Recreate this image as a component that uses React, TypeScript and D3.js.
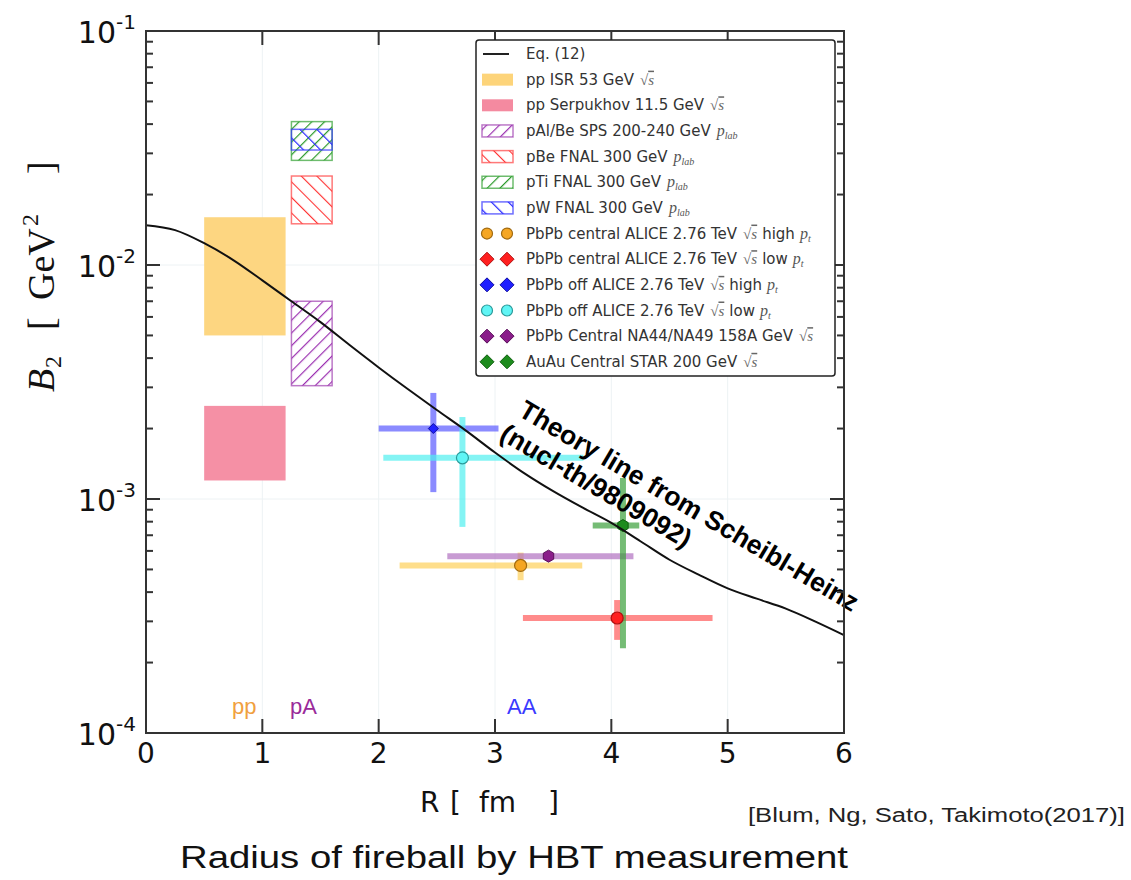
import React from "react";
import * as d3 from "d3";

// Coalescence parameter B2 vs HBT radius R
const theoryR = [0, 0.25, 0.5, 0.75, 1.0, 1.25, 1.5, 1.75, 2.0, 2.25, 2.5, 2.75, 3.0, 3.25, 3.5, 3.75, 4.0, 4.25, 4.5, 4.75, 5.0, 5.25, 5.5, 5.75, 6.0];
const theoryB2 = [1.48e-2, 1.41e-2, 1.24e-2, 1.05e-2, 8.6e-3, 7.0e-3, 5.7e-3, 4.55e-3, 3.65e-3, 2.95e-3, 2.4e-3, 1.96e-3, 1.58e-3, 1.29e-3, 1.08e-3, 9.2e-4, 7.9e-4, 6.6e-4, 5.5e-4, 4.75e-4, 4.15e-4, 3.75e-4, 3.4e-4, 3.0e-4, 2.62e-4];

// Rectangular ranges (pp and pA measurements)
const boxNames = ["ppISR", "ppSerpukhov", "pAlBe", "pBe", "pTi", "pW"];
const boxRmin = [0.5, 0.5, 1.25, 1.25, 1.25, 1.25];
const boxRmax = [1.2, 1.2, 1.6, 1.6, 1.6, 1.6];
const boxB2min = [5.0e-3, 1.2e-3, 3.05e-3, 1.5e-2, 2.8e-2, 3.1e-2];
const boxB2max = [1.6e-2, 2.5e-3, 7.0e-3, 2.4e-2, 4.1e-2, 3.8e-2];

// AA measurements with error ranges
const ptNames = ["aliceCentHigh", "aliceCentLow", "aliceOffHigh", "aliceOffLow", "na44na49", "star"];
const ptR = [3.22, 4.05, 2.47, 2.72, 3.46, 4.10];
const ptRlo = [2.18, 3.24, 2.0, 2.04, 2.59, 3.84];
const ptRhi = [3.75, 4.87, 3.03, 3.76, 4.19, 4.24];
const ptB2 = [5.2e-4, 3.1e-4, 2.0e-3, 1.5e-3, 5.7e-4, 7.7e-4];
const ptB2lo = [4.5e-4, 2.5e-4, 1.07e-3, 7.6e-4, 5.7e-4, 2.3e-4];
const ptB2hi = [5.9e-4, 3.7e-4, 2.84e-3, 2.24e-3, 5.7e-4, 1.23e-3];

const xTicks = [0, 1, 2, 3, 4, 5, 6];
const yDecades = [-1, -2, -3, -4];

const legendText = [
  "Eq. (12)",
  "pp ISR 53 GeV",
  "pp Serpukhov 11.5 GeV",
  "pAl/Be SPS 200-240 GeV",
  "pBe FNAL 300 GeV",
  "pTi FNAL 300 GeV",
  "pW FNAL 300 GeV",
  "PbPb central ALICE 2.76 TeV",
  "PbPb central ALICE 2.76 TeV",
  "PbPb off ALICE 2.76 TeV",
  "PbPb off ALICE 2.76 TeV",
  "PbPb Central NA44/NA49 158A GeV",
  "AuAu Central STAR 200 GeV",
];
const legendSuffix = ["", "sqrt", "sqrt", "plab", "plab", "plab", "plab", "sqrt high", "sqrt low", "sqrt high", "sqrt low", "sqrt", "sqrt"];

// styling
const boxFill = ["#fdd47a", "#f48aa0", "url(#hatchPurple)", "url(#hatchRed)", "url(#hatchGreen)", "url(#hatchBlue)"];
const boxStroke = ["none", "none", "#a040b0", "#ff4040", "#30a030", "#3030ff"];
const barColor = ["#fdd05a", "#ff5a5a", "#5a5aff", "#50f0f0", "#b070c0", "#3aa03a"];
const markFill = ["#f5a623", "#ff2020", "#2020ff", "#60f5f5", "#8a1d8a", "#1e8c1e"];
const markStroke = ["#a06a10", "#b01010", "#1010a0", "#2a9a9a", "#5a105a", "#106010"];
const markShape = ["circle", "circle", "diamond", "circle", "hex", "hex"];

const SANS = "DejaVu Sans, sans-serif";
const ARIAL = "Liberation Sans, Arial, sans-serif";
const SERIF = "Liberation Serif, DejaVu Serif, serif";

function Marker({ shape, cx, cy, r, fill, stroke }: any) {
  if (shape === "diamond") {
    const p = `${cx},${cy - r} ${cx + r},${cy} ${cx},${cy + r} ${cx - r},${cy}`;
    return <polygon points={p} fill={fill} stroke={stroke} strokeWidth={1} />;
  }
  if (shape === "hex") {
    const pts = d3.range(6).map((i) => {
      const a = (Math.PI / 3) * i + Math.PI / 6;
      return `${cx + r * Math.cos(a)},${cy + r * Math.sin(a)}`;
    });
    return <polygon points={pts.join(" ")} fill={fill} stroke={stroke} strokeWidth={1} />;
  }
  return <circle cx={cx} cy={cy} r={r} fill={fill} stroke={stroke} strokeWidth={1.2} />;
}

function Suffix({ kind }: { kind: string }) {
  if (!kind) return null;
  const parts = kind.split(" ");
  const out: any[] = [];
  if (parts[0] === "sqrt") {
    out.push(
      <tspan key="s" dx={6} fontFamily={SERIF} fontStyle="italic" fill="#666" fontSize={15}>
        √<tspan textDecoration="overline">s</tspan>
      </tspan>
    );
  }
  if (parts[0] === "plab") {
    out.push(
      <tspan key="p" dx={6} fontFamily={SERIF} fontStyle="italic" fill="#555" fontSize={16}>
        p
      </tspan>
    );
    out.push(
      <tspan key="l" fontFamily={SERIF} fontStyle="italic" fill="#555" fontSize={10} dy={3}>
        lab
      </tspan>
    );
  }
  if (parts[1]) {
    out.push(
      <tspan key="h" dx={5} dy={0}>
        {parts[1]}
      </tspan>
    );
    out.push(
      <tspan key="pt" dx={5} fontFamily={SERIF} fontStyle="italic" fill="#555" fontSize={16}>
        p
      </tspan>
    );
    out.push(
      <tspan key="t" fontFamily={SERIF} fontStyle="italic" fill="#555" fontSize={10} dy={3}>
        t
      </tspan>
    );
  }
  return <>{out}</>;
}

export default function App() {
  const x = d3.scaleLinear().domain([0, 6]).range([146, 844]);
  const y = d3.scaleLog().domain([1e-4, 1e-1]).range([733, 31]);
  const [xl, xr] = x.range();
  const [yb, yt] = y.range();

  const line = d3
    .line<number>()
    .x((_, i) => x(theoryR[i]))
    .y((d) => y(d))
    .curve(d3.curveMonotoneX);

  const minorY: { v: number; major: boolean }[] = [];
  for (let e = -4; e <= -1; e++) {
    for (let m = 1; m <= 9; m++) {
      const v = m * Math.pow(10, e);
      if (v > 0.1 + 1e-12) continue;
      minorY.push({ v, major: m === 1 });
    }
  }

  const legX = 476;
  const legY0 = 54;
  const legStep = 25.65;

  return (
    <svg
      width={1131}
      height={880}
      style={{ position: "absolute", left: 0, top: 0, background: "#fff" }}
    >
      <defs>
        <pattern id="hatchPurple" patternUnits="userSpaceOnUse" width={9} height={9} patternTransform="rotate(45)">
          <line x1={0} y1={0} x2={0} y2={9} stroke="#9b30b0" strokeWidth={2.4} />
        </pattern>
        <pattern id="hatchRed" patternUnits="userSpaceOnUse" width={11} height={11} patternTransform="rotate(-45)">
          <line x1={0} y1={0} x2={0} y2={11} stroke="#ff3030" strokeWidth={2.2} />
        </pattern>
        <pattern id="hatchGreen" patternUnits="userSpaceOnUse" width={9} height={9} patternTransform="rotate(45)">
          <line x1={0} y1={0} x2={0} y2={9} stroke="#2a9a2a" strokeWidth={2.4} />
        </pattern>
        <pattern id="hatchBlue" patternUnits="userSpaceOnUse" width={12} height={12} patternTransform="rotate(-45)">
          <line x1={0} y1={0} x2={0} y2={12} stroke="#2020ff" strokeWidth={2.4} />
        </pattern>
      </defs>

      {/* faint grid */}
      <g stroke="#edf2f4" strokeWidth={1}>
        {xTicks.slice(1, -1).map((t) => (
          <line key={"gx" + t} x1={x(t)} x2={x(t)} y1={yt} y2={yb} />
        ))}
        {[1e-2, 1e-3].map((v) => (
          <line key={"gy" + v} x1={xl} x2={xr} y1={y(v)} y2={y(v)} />
        ))}
      </g>

      {/* pp / pA ranges */}
      {boxNames.map((n, i) => (
        <rect
          key={n}
          x={x(boxRmin[i])}
          y={y(boxB2max[i])}
          width={x(boxRmax[i]) - x(boxRmin[i])}
          height={y(boxB2min[i]) - y(boxB2max[i])}
          fill={boxFill[i]}
          fillOpacity={i < 2 ? 0.95 : 1}
          stroke={boxStroke[i]}
          strokeWidth={1.5}
          strokeOpacity={0.7}
        />
      ))}

      {/* AA error bars */}
      {ptNames.map((n, i) => (
        <g key={n} stroke={barColor[i]} strokeWidth={6} strokeOpacity={0.7}>
          <line x1={x(ptRlo[i])} x2={x(ptRhi[i])} y1={y(ptB2[i])} y2={y(ptB2[i])} />
          {ptB2lo[i] !== ptB2hi[i] && (
            <line x1={x(ptR[i])} x2={x(ptR[i])} y1={y(ptB2lo[i])} y2={y(ptB2hi[i])} />
          )}
        </g>
      ))}
      {ptNames.map((n, i) => (
        <Marker
          key={"m" + n}
          shape={markShape[i]}
          cx={x(ptR[i])}
          cy={y(ptB2[i])}
          r={markShape[i] === "diamond" ? 5 : 6}
          fill={markFill[i]}
          stroke={markStroke[i]}
        />
      ))}

      {/* Eq. (12) */}
      <path d={line(theoryB2) || ""} fill="none" stroke="#111" strokeWidth={2} />

      {/* collision system labels */}
      <g fontFamily={ARIAL} fontSize={22}>
        <text x={232} y={714} fill="#f0a040">pp</text>
        <text x={290} y={714} fill="#9a2a9a">pA</text>
        <text x={507} y={714} fill="#3a3aff">AA</text>
      </g>

      {/* annotation */}
      <g transform="translate(517,415) rotate(30.5)" fontFamily={ARIAL} fontWeight="bold" fontSize={26.5} fill="#000">
        <text x={0} y={0}>Theory line from Scheibl-Heinz</text>
        <text x={-4} y={30}>(nucl-th/9809092)</text>
      </g>

      {/* axes frame and ticks */}
      <g stroke="#333" strokeWidth={2}>
        {minorY.map(({ v, major }) => (
          <g key={"ty" + v}>
            <line x1={xl} x2={xl + (major ? 14 : 7)} y1={y(v)} y2={y(v)} />
            <line x1={xr} x2={xr - (major ? 14 : 7)} y1={y(v)} y2={y(v)} />
          </g>
        ))}
        {xTicks.slice(1, -1).map((t) => (
          <g key={"tx" + t}>
            <line x1={x(t)} x2={x(t)} y1={yb} y2={yb - 14} />
            <line x1={x(t)} x2={x(t)} y1={yt} y2={yt + 14} />
          </g>
        ))}
        <rect x={xl} y={yt} width={xr - xl} height={yb - yt} fill="none" />
      </g>

      {/* tick labels */}
      <g fontFamily={SANS} fontSize={28} fill="#111" textAnchor="middle">
        {xTicks.map((t) => (
          <text key={"lx" + t} x={x(t)} y={763}>
            {t}
          </text>
        ))}
      </g>
      <g fontFamily={SANS} fill="#111">
        {yDecades.map((e) => (
          <text key={"ly" + e} x={136} y={y(Math.pow(10, e)) + 12} textAnchor="end" fontSize={30}>
            10
            <tspan fontSize={20} dy={-14}>
              {"-" + Math.abs(e)}
            </tspan>
          </text>
        ))}
      </g>

      {/* axis titles */}
      <g fontFamily={SANS} fontSize={28} fill="#111">
        <text x={420} y={812}>R</text>
        <text x={450} y={812}>[</text>
        <text x={479} y={812}>fm</text>
        <text x={548} y={812}>]</text>
      </g>
      <g transform="translate(54,392) rotate(-90)" fontFamily={SERIF} fontSize={38} fill="#111">
        <text x={0} y={0} fontStyle="italic">B</text>
        <text x={24} y={7} fontSize={24}>2</text>
        <text x={62} y={0}>[</text>
        <text x={92} y={0}>GeV</text>
        <text x={166} y={-16} fontSize={24}>2</text>
        <text x={218} y={0}>]</text>
      </g>

      {/* legend */}
      <rect x={legX} y={40} width={359} height={336} rx={3} fill="#fff" stroke="#222" strokeWidth={1.5} />
      {legendText.map((t, i) => {
        const cy = legY0 + i * legStep;
        let handle: any = null;
        if (i === 0) {
          handle = <line x1={483} x2={509} y1={cy} y2={cy} stroke="#222" strokeWidth={2} />;
        } else if (i <= 6) {
          const b = i - 1;
          handle = (
            <rect
              x={482}
              y={cy - 6}
              width={31}
              height={12}
              fill={boxFill[b]}
              stroke={boxStroke[b]}
              strokeWidth={1.5}
              strokeOpacity={0.7}
            />
          );
        } else {
          const p = i - 7;
          handle = (
            <g>
              {[487, 507].map((cx) => (
                <Marker
                  key={cx}
                  shape={p === 0 || p === 3 ? "circle" : "diamond"}
                  cx={cx}
                  cy={cy}
                  r={p === 0 || p === 3 ? 5.5 : 7}
                  fill={markFill[p]}
                  stroke={markStroke[p]}
                />
              ))}
            </g>
          );
        }
        return (
          <g key={"leg" + i}>
            {handle}
            <text x={526} y={cy + 5} fontFamily={SANS} fontSize={15} fill="#333">
              {t}
              <Suffix kind={legendSuffix[i]} />
            </text>
          </g>
        );
      })}

      {/* captions */}
      <text x={748} y={822} fontFamily={ARIAL} fontSize={20} fill="#222" textLength={377} lengthAdjust="spacingAndGlyphs">
        [Blum, Ng, Sato, Takimoto(2017)]
      </text>
      <text x={180} y={868} fontFamily={ARIAL} fontSize={31} fill="#111" textLength={668} lengthAdjust="spacingAndGlyphs">
        Radius of fireball by HBT measurement
      </text>
    </svg>
  );
}
